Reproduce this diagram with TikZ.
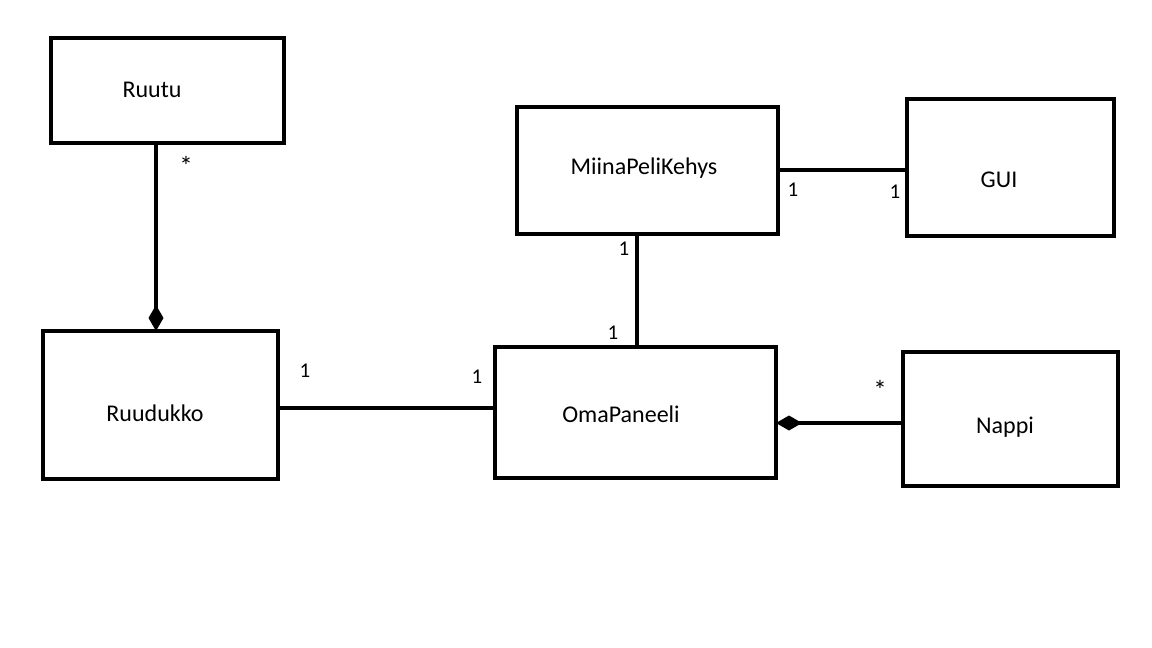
\documentclass[tikz,border=0pt]{standalone}
\usepackage{fontspec}
\setmainfont{Carlito}
\usetikzlibrary{arrows.meta}
\begin{document}
\begin{tikzpicture}[x=1pt,y=-1pt,
  cls/.style={draw,line width=4pt,inner sep=0pt,outer sep=0pt},
  lbl/.style={font=\fontsize{24}{28}\selectfont,inner sep=0pt},
  mult/.style={font=\fontsize{21}{24}\selectfont,inner sep=0pt},
  star/.style={font=\fontsize{27}{30}\selectfont,inner sep=0pt},
  conn/.style={line width=4pt},
  comp/.style={line width=4pt,-{Diamond[length=26pt,width=15pt]}}]
\useasboundingbox[fill=white] (0,0) rectangle (1152,648);
% boxes
\node[cls,minimum width=233pt,minimum height=105pt] (ruutu) at (167.5,90.5) {};
\node[cls,minimum width=235pt,minimum height=148pt] (ruudukko) at (160.5,405) {};
\node[cls,minimum width=261pt,minimum height=127pt] (mpk) at (647.5,170.5) {};
\node[cls,minimum width=207pt,minimum height=137pt] (gui) at (1010.5,167.5) {};
\node[cls,minimum width=281pt,minimum height=131pt] (oma) at (635.5,412.5) {};
\node[cls,minimum width=215pt,minimum height=134pt] (nappi) at (1010.5,419) {};
% labels
\node[lbl] (tRuutu) at (152,90) {Ruutu};
\node[lbl] (tRuudukko) at (155,413) {Ruudukko};
\node[lbl] (tMpk) at (644,168) {MiinaPeliKehys};
\node[lbl] (tGui) at (999,180) {GUI};
\node[lbl] (tOma) at (621,414) {OmaPaneeli};
\node[lbl] (tNappi) at (1005,427) {Nappi};
% helper coordinates
\coordinate (cx1) at (156,0);
\coordinate (cy1) at (0,408);
\coordinate (cy2) at (0,170);
\coordinate (cx2) at (637,0);
\coordinate (cy3) at (0,423);
% connectors
\draw[comp] (ruutu.south -| cx1) -- (ruudukko.north -| cx1);
\draw[conn] (ruudukko.east |- cy1) -- (oma.west |- cy1);
\draw[conn] (mpk.east |- cy2) -- (gui.west |- cy2);
\draw[conn] (mpk.south -| cx2) -- (oma.north -| cx2);
\draw[comp] (nappi.west |- cy3) -- (oma.east |- cy3);
% multiplicities
\node[star] (m1) at (186,166) {*};
\node[mult] (m2) at (305,371) {1};
\node[mult] (m3) at (477,377) {1};
\node[mult] (m4) at (793,190) {1};
\node[mult] (m5) at (895,192) {1};
\node[mult] (m6) at (624,249) {1};
\node[mult] (m7) at (613,333) {1};
\node[star] (m8) at (880,390) {*};
\end{tikzpicture}
\end{document}
